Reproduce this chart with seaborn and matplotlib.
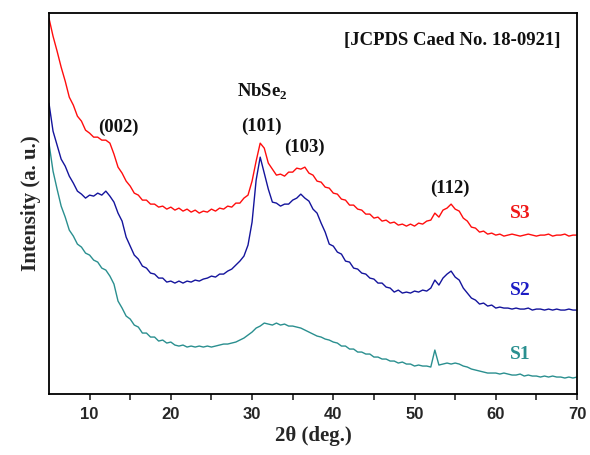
import numpy as np
import pandas as pd
import matplotlib
matplotlib.use("Agg")
import matplotlib.pyplot as plt
import seaborn as sns

# 2-theta sampling (deg.), 0.5 deg steps from 5 to 70
two_theta = np.arange(5.0, 70.01, 0.5)

# intensities (arbitrary units, offset stacked), 10 values = 5 deg per row
s3 = [376, 358, 343, 327, 313, 297, 289, 278, 273, 264,
      261, 257, 257, 254, 254, 251, 240, 227, 221, 213,
      208, 201, 199, 194, 194, 190, 190, 187, 188, 185,
      187, 184, 186, 183, 185, 182, 184, 181, 183, 182,
      185, 183, 186, 185, 188, 187, 191, 191, 196, 199,
      213, 233, 251, 246, 231, 225, 219, 220, 218, 222,
      222, 226, 225, 227, 221, 219, 213, 212, 207, 206,
      201, 200, 195, 194, 189, 189, 185, 184, 180, 180,
      176, 177, 173, 174, 171, 172, 169, 170, 168, 170,
      168, 171, 170, 173, 174, 181, 177, 184, 186, 190,
      185, 183, 176, 173, 167, 166, 162, 163, 160, 161,
      159, 160, 158, 159, 160, 159, 158, 159, 160, 159,
      158, 159, 159, 160, 158, 159, 159, 160, 158, 159,
      159]

s2 = [291, 263, 249, 235, 228, 218, 211, 203, 200, 196,
      199, 198, 201, 199, 203, 198, 192, 181, 173, 157,
      148, 139, 135, 128, 126, 121, 120, 116, 116, 112,
      113, 111, 113, 111, 113, 112, 114, 113, 115, 116,
      118, 117, 120, 120, 123, 125, 129, 133, 138, 149,
      172, 214, 237, 221, 205, 192, 191, 188, 190, 190,
      194, 196, 200, 196, 193, 185, 181, 171, 162, 150,
      148, 142, 140, 133, 132, 126, 125, 121, 120, 116,
      115, 111, 111, 107, 106, 102, 104, 101, 102, 101,
      103, 102, 104, 103, 106, 114, 109, 116, 120, 123,
      117, 114, 106, 101, 96, 94, 90, 91, 88, 89,
      86, 87, 86, 86, 85, 86, 85, 85, 86, 84,
      85, 85, 84, 85, 84, 85, 84, 84, 85, 84,
      84]

s1 = [251, 223, 205, 188, 177, 164, 158, 150, 147, 141,
      139, 134, 132, 126, 124, 118, 110, 93, 86, 78,
      75, 69, 67, 61, 61, 57, 57, 53, 54, 51,
      52, 49, 48, 49, 47, 48, 47, 48, 47, 48,
      47, 48, 49, 50, 50, 51, 52, 54, 56, 59,
      62, 66, 68, 71, 70, 69, 71, 69, 70, 68,
      68, 67, 66, 64, 62, 60, 58, 57, 55, 54,
      52, 51, 48, 48, 45, 45, 42, 42, 40, 40,
      37, 37, 35, 35, 33, 33, 31, 32, 30, 30,
      28, 29, 28, 28, 27, 44, 29, 30, 31, 30,
      31, 30, 28, 27, 25, 24, 23, 22, 21, 21,
      21, 20, 21, 20, 19, 19, 20, 18, 19, 18,
      18, 17, 18, 17, 18, 17, 17, 16, 17, 16,
      17]

sample_labels = ["S3", "S2", "S1"]
line_colors = ["#ff0d0d", "#14149c", "#2a8f8f"]
label_colors = ["#f01818", "#1c1cc4", "#2a9090"]

sns.set_style("ticks")
plt.rcParams["font.family"] = ["Liberation Serif", "DejaVu Serif"]
plt.rcParams["mathtext.fontset"] = "custom"
plt.rcParams["mathtext.rm"] = "Liberation Serif:bold"

fig = plt.figure(figsize=(5.9, 4.55), dpi=100)
ax = fig.add_axes([0.083, 0.134, 0.895, 0.837])

for series, col in zip([s3, s2, s1], line_colors):
    sns.lineplot(x=two_theta, y=series, color=col, linewidth=1.0, ax=ax)

ax.set_xlim(5, 70)
ax.set_ylim(0, 381)
ax.set_yticks([])
ax.set_xticks([10, 20, 30, 40, 50, 60, 70])
ax.set_xticks([15, 25, 35, 45, 55, 65], minor=True)
ax.tick_params(axis="x", which="both", direction="out", length=4, width=1.2, pad=5)
for lbl in ax.get_xticklabels():
    lbl.set_fontfamily("Liberation Sans")
    lbl.set_fontweight("bold")
    lbl.set_fontsize(12)
for sp in ax.spines.values():
    sp.set_visible(True)
    sp.set_linewidth(1.3)
    sp.set_color("black")

ax.set_xlabel("2θ (deg.)", fontsize=15, fontweight="bold", labelpad=3)
ax.set_ylabel("Intensity (a. u.)", fontsize=15, fontweight="bold", labelpad=6)

tk = dict(fontsize=13.5, fontweight="bold", ha="center", va="center", color="#111111")
ax.text(13.5, 267, "(002)", **tk)
ax.text(31.3, 302, "NbSe$_2$", **tk)
ax.text(31.1, 268, "(101)", **tk)
ax.text(36.4, 247, "(103)", **tk)
ax.text(54.4, 206, "(112)", **tk)
ax.text(68.0, 354, "[JCPDS Caed No. 18-0921]", fontsize=13.5, fontweight="bold",
        ha="right", va="center", color="#111111")

for name, col, yy in zip(sample_labels, label_colors, [181, 104, 40]):
    ax.text(63.0, yy, name, fontsize=14, fontweight="bold", ha="center", va="center", color=col)

fig.savefig("out.png", dpi=100)
